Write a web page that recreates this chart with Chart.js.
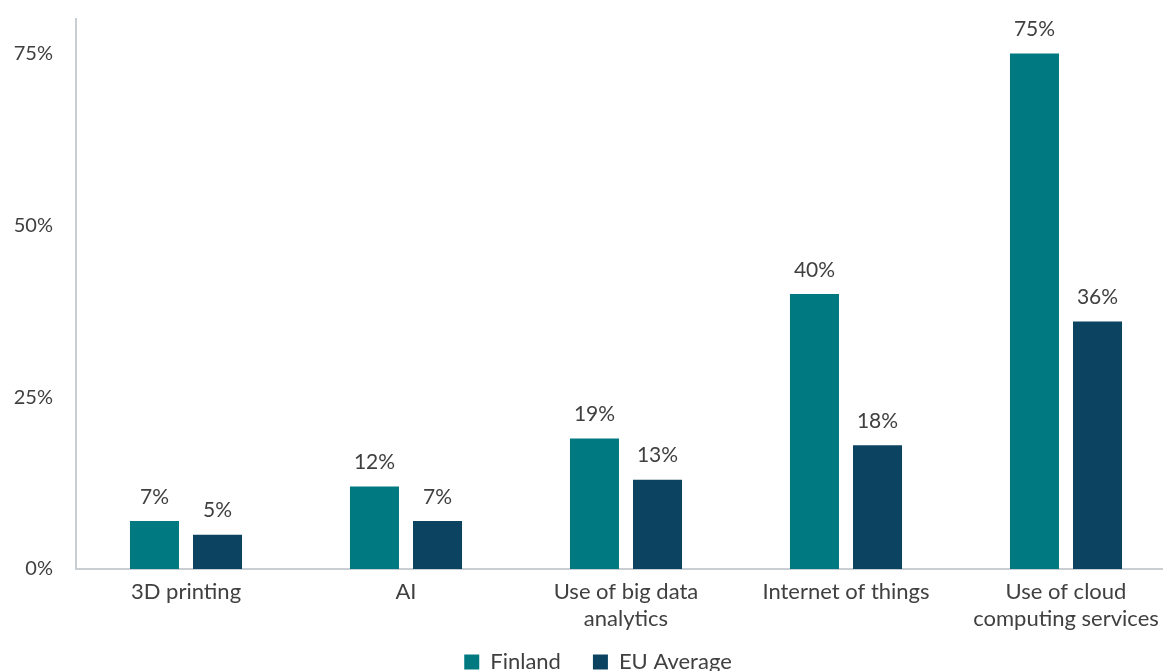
<!DOCTYPE html>
<html>
<head>
<meta charset="utf-8">
<script src="https://cdn.jsdelivr.net/npm/chart.js@4/dist/chart.umd.min.js"></script>
<style>
html,body{margin:0;padding:0;background:#fff;overflow:hidden;}
#c{display:block;}
</style>
</head>
<body>
<canvas id="c" width="1176" height="671"></canvas>
<script>
const categories = ["3D printing", "AI", ["Use of big data", "analytics"], "Internet of things", ["Use of cloud", "computing services"]];
const finland = [7, 12, 19, 40, 75];
const euAverage = [5, 7, 13, 18, 36];
const yTicks = [0, 25, 50, 75];

const FONT = 'Lato, "Open Sans", sans-serif';
const TEXT = '#404040';

const valueLabels = {
  id: 'valueLabels',
  afterDatasetsDraw(chart) {
    const ctx = chart.ctx;
    ctx.save();
    ctx.font = '21px ' + FONT;
    ctx.fillStyle = TEXT;
    ctx.textAlign = 'center';
    ctx.textBaseline = 'middle';
    chart.data.datasets.forEach((ds, i) => {
      const meta = chart.getDatasetMeta(i);
      meta.data.forEach((bar, j) => {
        ctx.fillText(ds.data[j] + '%', bar.x, bar.y - 24);
      });
    });
    ctx.restore();
  }
};

new Chart(document.getElementById('c'), {
  type: 'bar',
  data: {
    labels: categories,
    datasets: [
      { label: 'Finland', data: finland, backgroundColor: '#007a80', categoryPercentage: 0.573, barPercentage: 0.778 },
      { label: 'EU Average', data: euAverage, backgroundColor: '#0b4360', categoryPercentage: 0.573, barPercentage: 0.778 }
    ]
  },
  options: {
    responsive: false,
    animation: false,
    layout: { padding: { top: 19, right: 0, left: 20, bottom: -12 } },
    plugins: {
      legend: {
        position: 'bottom',
        labels: {
          font: { family: FONT, size: 22 },
          color: TEXT,
          boxWidth: 15,
          boxHeight: 15,
          padding: 32
        }
      },
      tooltip: { enabled: false }
    },
    scales: {
      x: {
        grid: { display: false, drawTicks: false },
        border: { color: '#c8ced2', width: 2 },
        ticks: { font: { family: FONT, size: 22, lineHeight: 1.23 }, color: TEXT, maxRotation: 0, minRotation: 0, padding: 9 },
        afterFit(scale) {
          scale.height = 50; scale.paddingLeft = 0; scale.paddingRight = 0;
          scale._computeLabelArea = () => undefined;
        }
      },
      y: {
        min: 0, max: 80,
        afterBuildTicks(scale) { scale.ticks = yTicks.map(v => ({ value: v })); },
        grid: { display: false, drawTicks: false },
        border: { color: '#c8ced2', width: 2 },
        ticks: { font: { family: FONT, size: 20 }, color: TEXT, padding: 23, callback: v => v + '%' },
        afterFit(scale) {
          scale.width = 56; scale.paddingTop = 0; scale.paddingBottom = 0;
          scale._computeLabelArea = () => undefined;
        }
      }
    }
  },
  plugins: [valueLabels]
});
</script>
</body>
</html>
